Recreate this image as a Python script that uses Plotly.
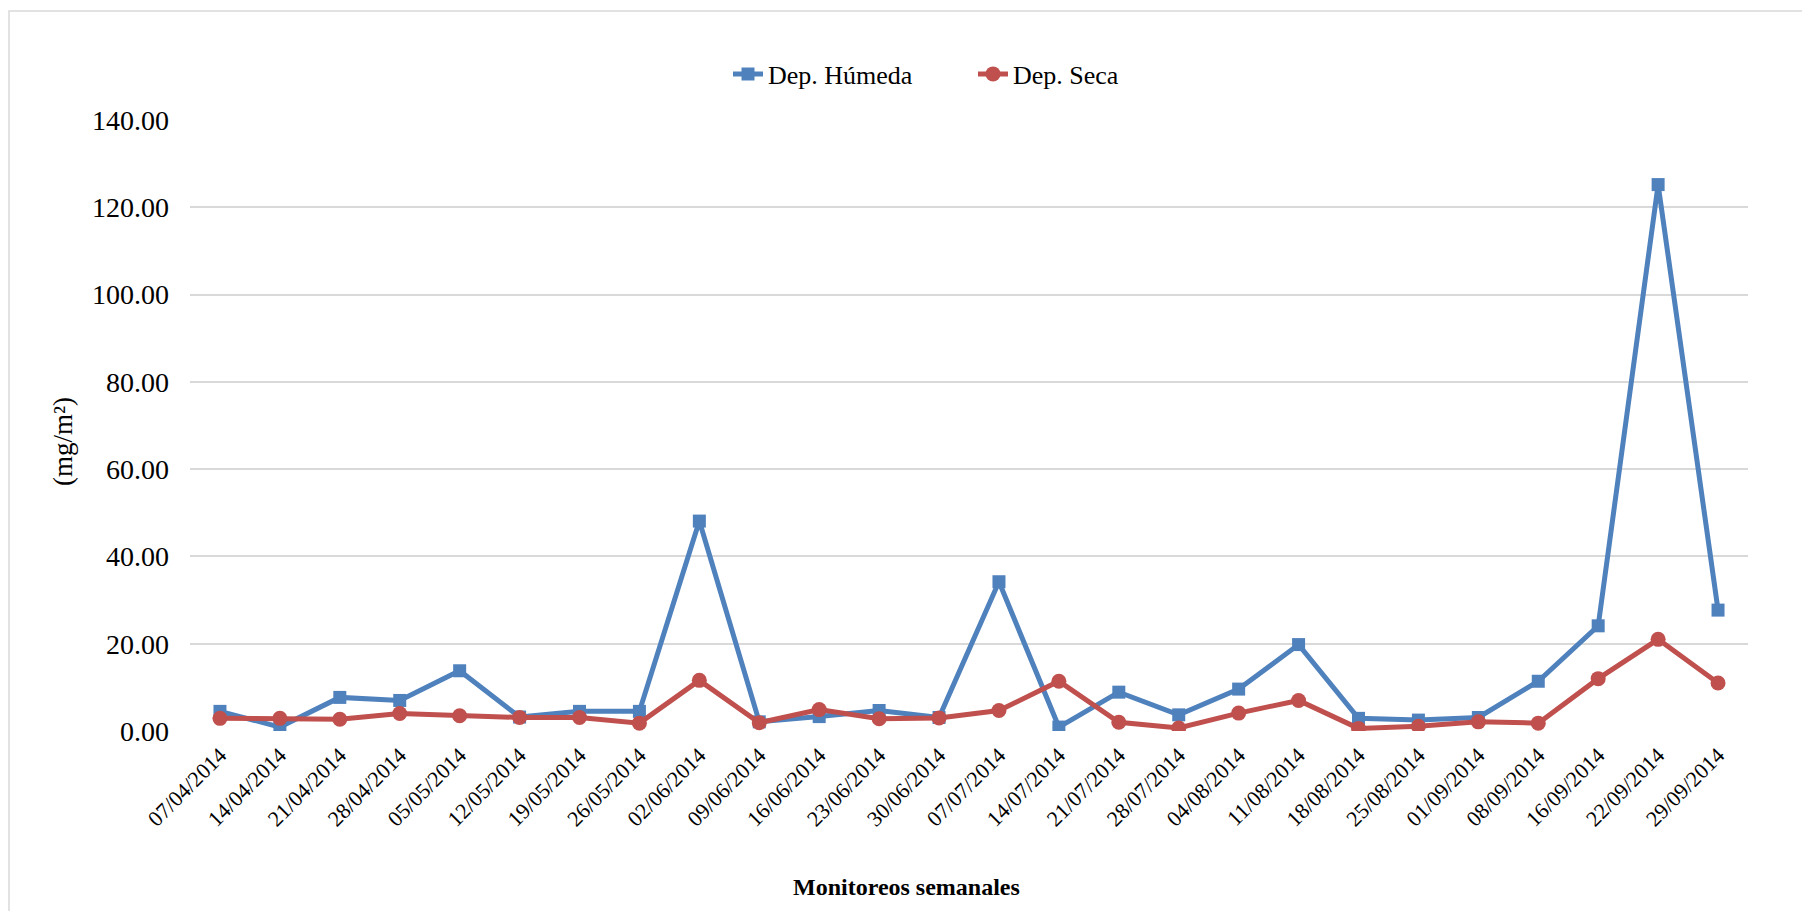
import plotly.graph_objects as go

# Weekly monitoring dates
fechas = [
    "07/04/2014", "14/04/2014", "21/04/2014", "28/04/2014", "05/05/2014",
    "12/05/2014", "19/05/2014", "26/05/2014", "02/06/2014", "09/06/2014",
    "16/06/2014", "23/06/2014", "30/06/2014", "07/07/2014", "14/07/2014",
    "21/07/2014", "28/07/2014", "04/08/2014", "11/08/2014", "18/08/2014",
    "25/08/2014", "01/09/2014", "08/09/2014", "16/09/2014", "22/09/2014",
    "29/09/2014",
]

# Wet deposition (mg/m²)
dep_humeda = [
    4.5, 0.9, 7.7, 7.0, 13.8, 3.2, 4.5, 4.5, 48.1, 2.1,
    3.3, 4.7, 3.1, 34.2, 0.9, 8.9, 3.7, 9.6, 19.8, 2.9,
    2.5, 3.1, 11.4, 24.1, 125.2, 27.7,
]

# Dry deposition (mg/m²)
dep_seca = [
    2.9, 2.9, 2.7, 4.0, 3.5, 3.1, 3.1, 1.8, 11.6, 1.9,
    4.9, 2.8, 3.0, 4.7, 11.4, 2.0, 0.7, 4.1, 7.0, 0.6,
    1.1, 2.1, 1.8, 12.0, 21.0, 11.0,
]

y_ticks = [0, 20, 40, 60, 80, 100, 120, 140]

AZUL = "#4F81BD"
ROJO = "#C0504D"
SERIF = "Liberation Serif"

W, H = 1802, 911
ML, MR, MT, MB = 190, 54, 120, 180
PW = W - ML - MR
PH = H - MT - MB


def px_x(p):
    return (p - ML) / PW


def px_y(p):
    return (H - MB - p) / PH


fig = go.Figure()
fig.add_trace(go.Scatter(
    x=fechas, y=dep_humeda, name="Dep. Húmeda", mode="lines+markers",
    line=dict(color=AZUL, width=5),
    marker=dict(symbol="square", size=13, color=AZUL),
))
fig.add_trace(go.Scatter(
    x=fechas, y=dep_seca, name="Dep. Seca", mode="lines+markers",
    line=dict(color=ROJO, width=5),
    marker=dict(symbol="circle", size=15, color=ROJO),
))

fig.update_layout(
    width=W, height=H,
    margin=dict(l=ML, r=MR, t=MT, b=MB, pad=0),
    paper_bgcolor="white", plot_bgcolor="white",
    font=dict(family=SERIF, color="black", size=24),
    showlegend=True,
    legend=dict(
        orientation="h", x=px_x(973), y=px_y(74), xanchor="center", yanchor="middle",
        font=dict(family=SERIF, size=26, color="black"),
        entrywidth=200, entrywidthmode="pixels", bgcolor="rgba(0,0,0,0)",
    ),
    xaxis=dict(
        type="category", range=[-0.5, len(fechas) - 0.5],
        tickangle=-45, tickfont=dict(family=SERIF, size=22, color="black"),
        showgrid=False, zeroline=False, showline=False, ticks="",
        ticklabelstandoff=6,
    ),
    yaxis=dict(
        range=[0, 140], tickvals=y_ticks, tickformat=".2f",
        tickfont=dict(family=SERIF, size=28, color="black"),
        showgrid=True, gridcolor="#d9d9d9", gridwidth=1.5,
        zeroline=False, showline=False, ticks="",
        ticklabelstandoff=20,
    ),
    annotations=[
        dict(text="<b>Monitoreos semanales</b>", xref="paper", yref="paper",
             x=px_x(906), y=px_y(887), xanchor="center", yanchor="middle",
             showarrow=False, font=dict(family=SERIF, size=24, color="black")),
        dict(text="(mg/m²)", xref="paper", yref="paper",
             x=px_x(63), y=px_y(442), xanchor="center", yanchor="middle",
             textangle=-90, showarrow=False,
             font=dict(family=SERIF, size=27, color="black")),
    ],
    shapes=[
        dict(type="rect", xref="paper", yref="paper",
             x0=px_x(9), x1=1.2, y0=-0.6, y1=px_y(11),
             line=dict(color="#d9d9d9", width=1.5), fillcolor="rgba(0,0,0,0)",
             layer="below"),
    ],
)

fig.write_html("out.html")
